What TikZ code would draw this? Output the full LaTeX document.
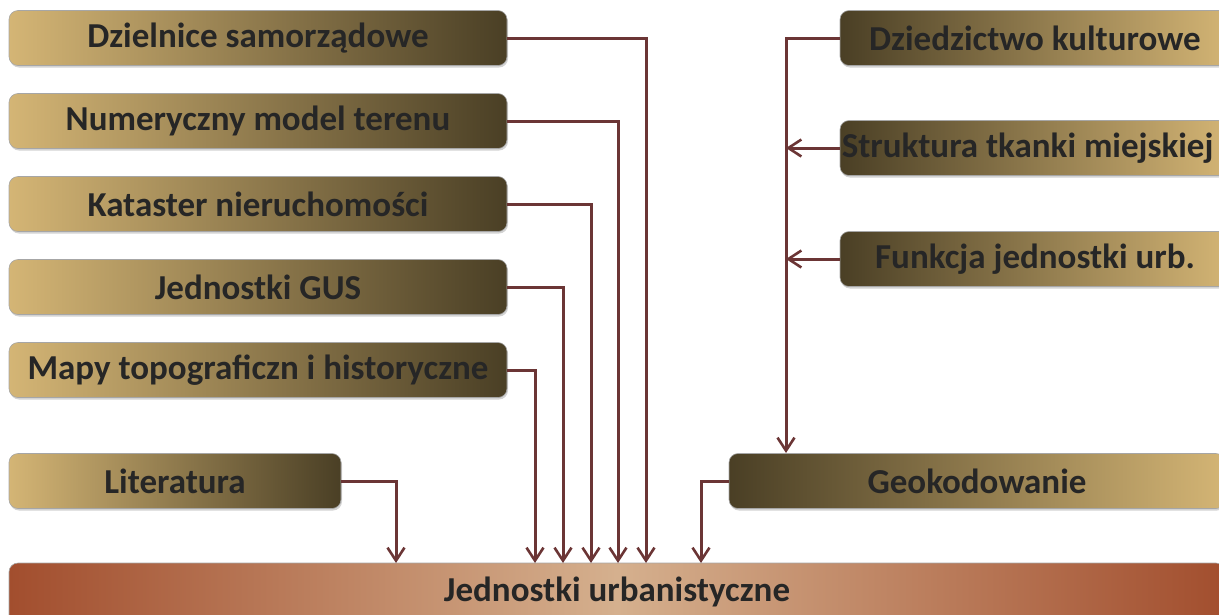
\documentclass[tikz,border=0pt]{standalone}
\usepackage{fontspec}
\setmainfont{Carlito}
\usetikzlibrary{arrows.meta,shadows}
\definecolor{tanL}{HTML}{D4B575}
\definecolor{tanD}{HTML}{4A3F25}
\definecolor{rust}{HTML}{A24E2E}
\definecolor{rustL}{HTML}{D5B08E}
\definecolor{conn}{HTML}{6B3535}
\definecolor{txt}{HTML}{262626}
\tikzset{
  lbl/.style={font=\fontsize{35}{38}\selectfont\bfseries, text=txt},
  box/.style={draw=gray!70, line width=0.6pt, rounded corners=9pt, minimum height=55pt,
    inner sep=0pt, lbl,
    drop shadow={shadow xshift=1pt, shadow yshift=-2pt, opacity=0.35}},
  lbox/.style={box, left color=tanL, right color=tanD},
  rbox/.style={box, left color=tanD, right color=tanL},
  arr/.style={draw=conn, line width=3pt, -{Straight Barb[length=13pt,width=17pt,line width=2.6pt]}}
}
\begin{document}
\begin{tikzpicture}[x=1pt,y=-1pt]
\useasboundingbox (0,0) rectangle (1219,614);
\clip (0,0) rectangle (1219,614);
% left boxes
\node[lbox, minimum width=498pt] (d1) at (258,38) {Dzielnice samorządowe};
\node[lbox, minimum width=498pt] (d2) at (258,121) {Numeryczny model terenu};
\node[lbox, minimum width=498pt] (d3) at (258,204) {Kataster nieruchomości};
\node[lbox, minimum width=498pt] (d4) at (258,287) {Jednostki GUS};
\node[lbox, minimum width=498pt] (d5) at (258,370) {Mapy topograficzn i historyczne};
\node[lbox, minimum width=332pt] (lit) at (175,481) {Literatura};
% right boxes
\node[rbox, minimum width=390pt] (r1) at (1035,38) {Dziedzictwo kulturowe};
\node[rbox, minimum width=390pt] (r2) at (1035,148) {};
\node[lbl, anchor=east] (r2t) at (1217,148) {Struktura tkanki miejskiej};
\node[rbox, minimum width=390pt] (r3) at (1035,259) {Funkcja jednostki urb.};
\node[rbox, minimum width=496pt] (geo) at (977,481) {Geokodowanie};
% bottom box
\node[box, minimum width=1216pt, minimum height=70pt, left color=rust, right color=rust, middle color=rustL] (jed) at (617,598) {};
\node[lbl] (jedt) at (617,592) {Jednostki urbanistyczne};
% targets
\coordinate (t0) at (396,563);
\coordinate (t1) at (535,563);
\coordinate (t2) at (563,563);
\coordinate (t3) at (591,563);
\coordinate (t4) at (618,563);
\coordinate (t5) at (646,563);
\coordinate (t6) at (701,563);
\coordinate (g1) at (786,453);
% connectors
\draw[arr] (d1.east) -| (t5);
\draw[arr] (d2.east) -| (t4);
\draw[arr] (d3.east) -| (t3);
\draw[arr] (d4.east) -| (t2);
\draw[arr] (d5.east) -| (t1);
\draw[arr] (lit.east) -| (t0);
\draw[arr] (geo.west) -| (t6);
\draw[arr] (r1.west) -| (g1);
\draw[arr] (r2.west) -- (r2.west -| g1);
\draw[arr] (r3.west) -- (r3.west -| g1);
\end{tikzpicture}
\end{document}
